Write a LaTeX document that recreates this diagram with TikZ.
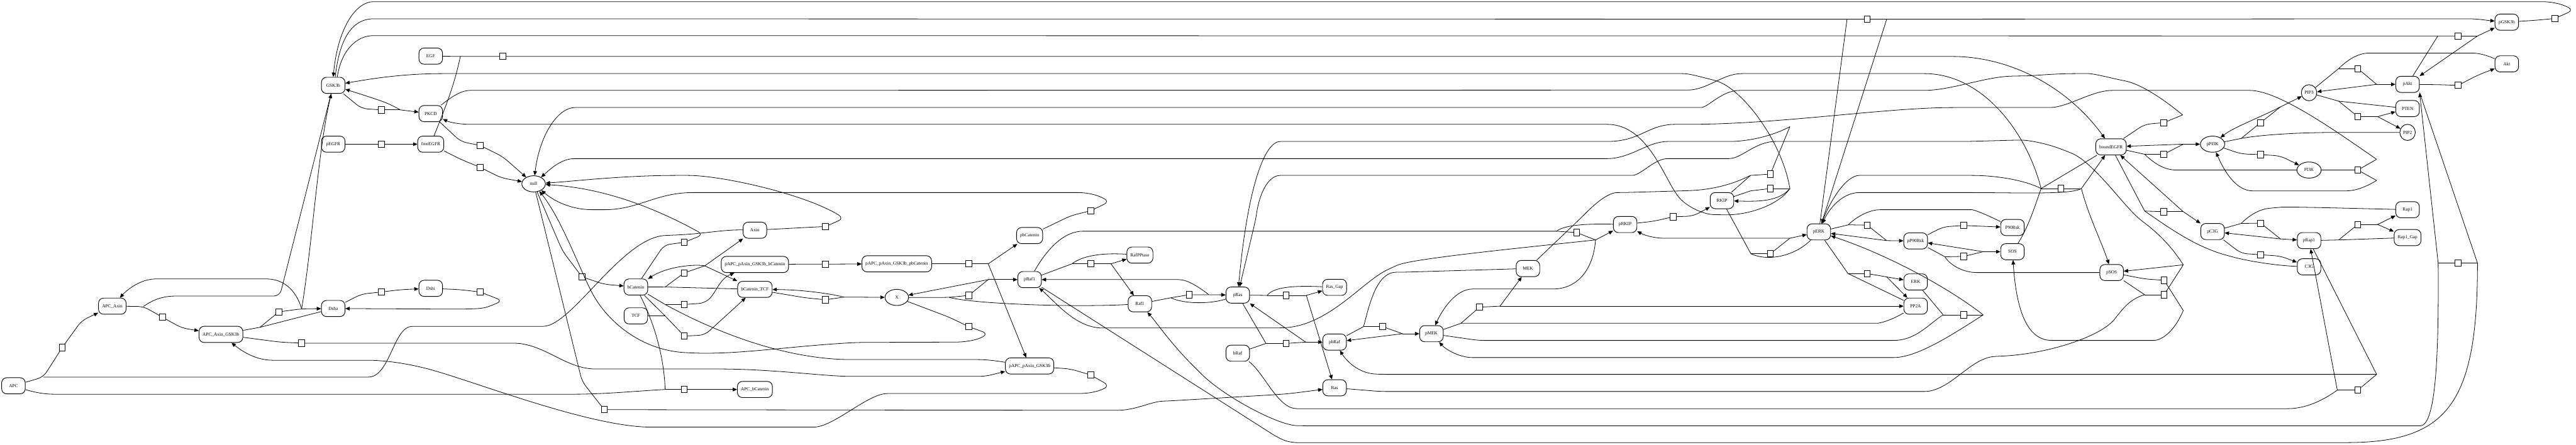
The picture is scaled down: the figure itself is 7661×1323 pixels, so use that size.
\documentclass[tikz,border=0pt]{standalone}
\usepackage{fontspec}
\setmainfont{Liberation Serif}
\usetikzlibrary{shapes.geometric,arrows.meta}
\newcommand{\nodefont}{\fontsize{3.9}{4.7}\selectfont}
\begin{document}
\begin{tikzpicture}[x=0.01cm,y=-0.01cm,
 sp/.style={draw,line width=0.5pt,rounded corners=0.15cm,minimum width=0.7cm,minimum height=0.48cm,inner xsep=3pt,inner ysep=0pt,font=\nodefont},
 el/.style={draw,line width=0.5pt,ellipse,minimum width=0.7cm,minimum height=0.48cm,inner sep=0pt,font=\nodefont},
 es/.style={el,minimum width=0.46cm},
 rx/.style={draw,line width=0.45pt,fill=white,minimum width=0.18cm,minimum height=0.19cm,inner sep=0pt},
 ln/.style={line width=0.42pt,rounded corners=5pt},
 ar/.style={ln,-{Triangle[length=0.13cm,width=0.11cm]}}]
\fill[white] (0,0) rectangle (7661,1323);
\useasboundingbox (0,0) rectangle (7661,1323);
% ---------------- species ----------------
\node[sp] (GSK) at (991,254) {GSK3b};
\node[sp] (EGF) at (1281,167) {EGF};
\node[sp] (PKCD) at (1281,338) {PKCD};
\node[sp] (pEGFR) at (991,429) {pEGFR};
\node[sp] (fEGFR) at (1281,429) {freeEGFR};
\node[el] (nul) at (1587,547) {null};
\node[sp] (APC) at (40,1148) {APC};
\node[sp] (AA) at (334,911) {APC\_Axin};
\node[sp] (AAG) at (657,995) {APC\_Axin\_GSK3b};
\node[sp] (Dsha) at (991,918) {Dsha};
\node[sp] (Dshi) at (1281,858) {Dshi};
\node[sp] (Axin) at (2245,685) {Axin};
\node[sp] (pAAGb) at (2245,787) {pAPC\_pAxin\_GSK3b\_bCatenin};
\node[sp] (bCat) at (1891,854) {bCatenin};
\node[sp] (bTCF) at (2245,861) {bCatenin\_TCF};
\node[sp] (TCF) at (1891,940) {TCF};
\node[sp] (ABc) at (2245,1159) {APC\_bCatenin};
\node[sp] (pbCat) at (3062,701) {pbCatenin};
\node[sp] (pAAGpb) at (2667,785) {pAPC\_pAxin\_GSK3b\_pbCatenin};
\node[sp] (pRaf) at (3062,832) {pRaf1};
\node[el] (X) at (2667,885) {X};
\node[sp] (RPP) at (3390,759) {RafPPtase};
\node[sp] (Raf) at (3390,904) {Raf1};
\node[sp] (pRas) at (3681,878) {pRas};
\node[sp] (bRaf) at (3681,1051) {bRaf};
\node[sp] (pAAG) at (3062,1089) {pAPC\_pAxin\_GSK3b};
\node[sp] (RGap) at (3969,855) {Ras\_Gap};
\node[sp] (pbRaf) at (3969,1018) {pbRaf};
\node[sp] (Ras) at (3969,1154) {Ras};
\node[sp] (pMEK) at (4257,993) {pMEK};
\node[sp] (MEK) at (4544,799) {MEK};
\node[sp] (pRKIP) at (4833,668) {pRKIP};
\node[sp] (RKIP) at (5121,597) {RKIP};
\node[sp] (bEGFR) at (6278,437) {boundEGFR};
\node[sp] (pERK) at (5409,690) {pERK};
\node[sp] (pP90) at (5697,717) {pP90Rsk};
\node[sp] (P90) at (5985,677) {P90Rsk};
\node[sp] (SOS) at (5985,749) {SOS};
\node[sp] (pSOS) at (6280,811) {pSOS};
\node[sp] (ERK) at (5697,839) {ERK};
\node[sp] (PP2A) at (5697,911) {PP2A};
\node[sp] (pGSK) at (7455,66) {pGSK3b};
\node[sp] (Akt) at (7455,190) {Akt};
\node[sp] (pAkt) at (7160,251) {pAkt};
\node[es] (PIP3) at (6867,276) {PIP3};
\node[sp] (PTEN) at (7160,323) {PTEN};
\node[es] (PIP2) at (7160,394) {PIP2};
\node[el,minimum width=0.72cm] (pPI3K) at (6580,429) {pPI3K};
\node[el,minimum width=0.72cm] (PI3K) at (6867,506) {PI3K};
\node[sp] (Rap1) at (7160,624) {Rap1};
\node[sp] (pC3G) at (6580,689) {pC3G};
\node[sp] (pRap1) at (6867,716) {pRap1};
\node[sp] (RGap1) at (7160,707) {Rap1\_Gap};
\node[sp] (C3G) at (6867,794) {C3G};
% ---------------- reaction boxes ----------------
\node[rx] (b1) at (1134,327) {};
\node[rx] (b2) at (1134,429) {};
\node[rx] (b3) at (1495,168) {};
\node[rx] (b4) at (1428,433) {};
\node[rx] (b5) at (1428,498) {};
\node[rx] (b6) at (7310,107) {};
\node[rx] (b7) at (5553,57) {};
\node[rx] (b8) at (7598,55) {};
\node[rx] (b9) at (1134,869) {};
\node[rx] (b10) at (1428,869) {};
\node[rx] (b11) at (185,1034) {};
\node[rx] (b12) at (483,944) {};
\node[rx] (b13) at (829,928) {};
\node[rx] (b14) at (897,1021) {};
\node[rx] (b15) at (3244,1116) {};
\node[rx] (b16) at (2455,786) {};
\node[rx] (b17) at (2881,785) {};
\node[rx] (b18) at (3244,627) {};
\node[rx] (b19) at (2035,721) {};
\node[rx] (b20) at (2455,674) {};
\node[rx] (b21) at (1731,824) {};
\node[rx] (b22) at (1797,1219) {};
\node[rx] (b23) at (2881,972) {};
\node[rx] (b24) at (2035,812) {};
\node[rx] (b25) at (2035,1000) {};
\node[rx] (b26) at (2035,906) {};
\node[rx] (b27) at (2455,892) {};
\node[rx] (b28) at (2035,1159) {};
\node[rx] (b29) at (2881,879) {};
\node[rx] (b30) at (3244,785) {};
\node[rx] (b31) at (3537,877) {};
\node[rx] (b32) at (7310,783) {};
\node[rx] (b33) at (3825,879) {};
\node[rx] (b34) at (3825,1022) {};
\node[rx] (b35) at (4112,972) {};
\node[rx] (b36) at (4400,914) {};
\node[rx] (b37) at (5840,937) {};
\node[rx] (b38) at (4689,692) {};
\node[rx] (b39) at (5553,670) {};
\node[rx] (b40) at (5840,671) {};
\node[rx] (b41) at (5840,763) {};
\node[rx] (b42) at (6129,561) {};
\node[rx] (b43) at (6436,834) {};
\node[rx] (b44) at (6436,877) {};
\node[rx] (b45) at (5553,814) {};
\node[rx] (b46) at (5265,755) {};
\node[rx] (b47) at (4976,645) {};
\node[rx] (b48) at (5265,518) {};
\node[rx] (b49) at (5265,561) {};
\node[rx] (b50) at (6435,365) {};
\node[rx] (b51) at (6435,459) {};
\node[rx] (b52) at (6723,365) {};
\node[rx] (b53) at (7012,204) {};
\node[rx] (b54) at (7310,254) {};
\node[rx] (b55) at (7012,347) {};
\node[rx] (b56) at (6723,460) {};
\node[rx] (b57) at (7012,506) {};
\node[rx] (b58) at (6435,630) {};
\node[rx] (b59) at (6723,664) {};
\node[rx] (b60) at (7012,668) {};
\node[rx] (b61) at (6723,758) {};
\node[rx] (b62) at (7012,1161) {};
% ---------------- junctions ----------------
\coordinate (j1a) at (1075,323); \coordinate (j1b) at (1191,327);
\coordinate (j3a) at (1369,168);
\coordinate (j6a) at (7250,107); \coordinate (j6b) at (7368,107);
\coordinate (j7a) at (5493,57); \coordinate (j7b) at (5611,57);
\coordinate (j8a) at (7545,60); \coordinate (j8b) at (7654,30);
\coordinate (j9a) at (1075,875); \coordinate (j9b) at (1191,862);
\coordinate (j11a) at (129,1122); \coordinate (j11b) at (243,954);
\coordinate (j12a) at (427,912); \coordinate (j12b) at (541,976);
\coordinate (j13a) at (773,974); \coordinate (j13b) at (897,919);
\coordinate (j14a) at (832,1018);
\coordinate (j15a) at (3184,1098); \coordinate (j15b) at (3300,1148);
\coordinate (j17a) at (2823,785); \coordinate (j17b) at (2939,785);
\coordinate (j18a) at (3184,642); \coordinate (j18b) at (3300,600);
\coordinate (j19a) at (1975,729); \coordinate (j19b) at (2092,698);
\coordinate (j20a) at (2394,677); \coordinate (j20b) at (2510,650);
\coordinate (j21a) at (1673,747);
\coordinate (j22a) at (1731,1135);
\coordinate (j23a) at (2823,944); \coordinate (j23b) at (2939,993);
\coordinate (j24a) at (1978,854); \coordinate (j24b) at (2096,791);
\coordinate (j25a) at (1978,940); \coordinate (j25b) at (2096,997);
\coordinate (j26a) at (1978,906); \coordinate (j26b) at (2096,902);
\coordinate (j27b) at (2510,884);
\coordinate (j28a) at (1978,1159);
\coordinate (j29a) at (2823,885); \coordinate (j29b) at (2939,832);
\coordinate (j30a) at (3188,785); \coordinate (j30b) at (3304,785);
\coordinate (j31a) at (3482,886); \coordinate (j31b) at (3595,877);
\coordinate (j32a) at (7251,783); \coordinate (j32b) at (7368,783);
\coordinate (j33a) at (3768,879); \coordinate (j33b) at (3885,879);
\coordinate (j34a) at (3765,1022); \coordinate (j34b) at (3883,1018);
\coordinate (j35a) at (4055,972); \coordinate (j35b) at (4171,993);
\coordinate (j36a) at (4345,962); \coordinate (j36b) at (4461,911);
\coordinate (j37a) at (5779,937); \coordinate (j37b) at (5898,937);
\coordinate (j38a) at (4629,688); \coordinate (j38b) at (4745,714);
\coordinate (j39a) at (5497,669); \coordinate (j39b) at (5611,716);
\coordinate (j41a) at (5784,764); \coordinate (j41b) at (5898,749);
\coordinate (j42a) at (6070,561); \coordinate (j42b) at (6190,561);
\coordinate (j43a) at (6378,830); \coordinate (j43b) at (6493,924);
\coordinate (j44a) at (6378,877); \coordinate (j44b) at (6493,788);
\coordinate (j45a) at (5496,814); \coordinate (j45b) at (5611,824);
\coordinate (j46a) at (5207,755); \coordinate (j46b) at (5323,709);
\coordinate (j48a) at (5206,522); \coordinate (j48b) at (5323,377);
\coordinate (j49a) at (5206,568); \coordinate (j49b) at (5323,561);
\coordinate (j50a) at (6378,370); \coordinate (j50b) at (6491,342);
\coordinate (j51a) at (6378,459); \coordinate (j51b) at (6493,429);
\coordinate (j52a) at (6665,412); \coordinate (j52b) at (6782,318);
\coordinate (j53a) at (6955,204); \coordinate (j53b) at (7068,251);
\coordinate (j55a) at (6955,301); \coordinate (j55b) at (7071,347);
\coordinate (j57a) at (6955,506); \coordinate (j57b) at (7068,474); \coordinate (j57c) at (7068,537);
\coordinate (j58a) at (6378,628); \coordinate (j58b) at (6493,630);
\coordinate (j59a) at (6665,665); \coordinate (j59b) at (6782,711);
\coordinate (j60a) at (6955,714); \coordinate (j60b) at (7071,668);
\coordinate (j62a) at (6951,1161); \coordinate (j62b) at (7068,1114);
% ---------------- connectors ----------------
% GSK3b -> PKCD
\draw[ln] (GSK) -- (j1a) -- (b1); \draw[ln] (b1) -- (j1b);
\draw[ar] (j1b) -- (PKCD);
\draw[ar] (j1b) .. controls (1150,305) .. (GSK);
% pEGFR -> freeEGFR
\draw[ln] (pEGFR) -- (b2); \draw[ar] (b2) -- (fEGFR);
% EGF + freeEGFR -> boundEGFR
\draw[ln] (EGF) -- (j3a) -- (b3);
\draw[ln] (fEGFR) .. controls (1320,330) and (1350,260) .. (j3a);
\draw[ar] (b3) -- (5788,168) .. controls (5980,168) and (6150,260) .. (bEGFR);
% PKCD, freeEGFR -> null
\draw[ln] (PKCD) -- (1370,421) -- (b4); \draw[ar] (b4) -- (1495,466) -- (nul);
\draw[ln] (fEGFR) -- (1370,474) -- (b5); \draw[ar] (b5) -- (1490,529) -- (nul);
% GSK3b + pAkt -> pGSK3b
\draw[ln] ([xshift=0.12cm]GSK.north) .. controls (1015,150) and (1060,106) .. (1128,106) -- (j6a) -- (b6);
\draw[ln] (j6a) -- (pAkt); \draw[ln] (b6) -- (j6b);
\draw[ar] (j6b) -- (pGSK); \draw[ar] (j6b) -- (pAkt);
% GSK3b + pERK -> pGSK3b
\draw[ln] ([xshift=0.06cm]GSK.north) .. controls (1010,110) and (1050,56) .. (1128,56) -- (j7a) -- (b7);
\draw[ar] (b7) -- (j7b) -- (7324,56) .. controls (7370,56) and (7390,60) .. (pGSK);
\draw[ln] (j7a) -- (pERK); \draw[ar] (j7b) -- (pERK);
% pGSK3b -> GSK3b
\draw[ln] (pGSK) -- (j8a) -- (b8);
\draw[ar] (b8) -- (j8b) .. controls (7610,8) and (7580,5) .. (7541,5) -- (1128,5) .. controls (1060,5) and (1005,80) .. (GSK.north);
% Dsh
\draw[ln] (Dsha) -- (j9a) -- (b9); \draw[ar] (b9) -- (j9b) -- (Dshi);
\draw[ln] (Dshi) -- (1370,862) -- (b10);
\draw[ar] (b10) -- (1495,895) .. controls (1440,918) .. (1370,920) -- (Dsha);
% APC + Axin -> APC_Axin
\draw[ln] (APC) -- (j11a) -- (b11); \draw[ar] (b11) -- (j11b) -- (AA);
\draw[ln] (j11a) -- (1078,1122) .. controls (1160,1122) and (1170,971) .. (1244,971) -- (1598,971) .. controls (1700,971) and (1850,706) .. (1996,700) .. controls (2100,695) and (2150,683) .. (Axin);
% APC_Axin + GSK3b -> APC_Axin_GSK3b
\draw[ln] (AA) -- (j12a) -- (b12); \draw[ar] (b12) -- (j12b) -- (AAG);
\draw[ln] (GSK) -- (832,881) -- (539,881) .. controls (480,881) and (450,895) .. (j12a);
% APC_Axin_GSK3b + Dsha
\draw[ln] (AAG) -- (j13a); \draw[ln] (Dsha) -- (j13a); \draw[ln] (j13a) -- (b13);
\draw[ar] (b13) -- (j13b) -- (Dsha);
\draw[ar] (j13b) .. controls (930,720) and (945,450) .. (GSK);
\draw[ar] (j13b) .. controls (880,860) and (840,830) .. (775,830) -- (481,830) .. controls (420,830) and (380,860) .. (AA);
% APC_Axin_GSK3b -> pAPC_pAxin_GSK3b
\draw[ln] (AAG) -- (j14a) -- (b14);
\draw[ar] (b14) -- (1507,1021) .. controls (1620,1021) and (1680,1098) .. (1789,1098) -- (2120,1098) .. controls (2300,1098) and (2450,1120) .. (2550,1120) -- (2890,1120) .. controls (2940,1120) and (2960,1112) .. (pAAG);
% pAPC_pAxin_GSK3b -> APC_Axin_GSK3b
\draw[ln] (pAAG) -- (j15a) -- (b15);
\draw[ar] (b15) -- (j15b) .. controls (3260,1168) and (3230,1171) .. (3188,1171) -- (2657,1171) .. controls (2580,1171) and (2480,1271) .. (2402,1271) -- (1955,1271) .. controls (1750,1271) and (1400,1130) .. (1250,1092) .. controls (1170,1075) and (1120,1072) .. (1078,1072) -- (829,1072) .. controls (760,1072) and (720,1045) .. (AAG);
% pAPC..bCatenin -> pAPC..pbCatenin
\draw[ln] (pAAGb) -- (2394,786) -- (b16); \draw[ar] (b16) -- (pAAGpb);
\draw[ln] (pAAGpb) -- (j17a) -- (b17); \draw[ln] (b17) -- (j17b);
\draw[ar] (j17b) -- (pbCat); \draw[ar] (j17b) -- (pAAG);
% pbCatenin -> null
\draw[ln] (pbCat) -- (j18a) -- (b18);
\draw[ar] (b18) -- (j18b) .. controls (3260,578) and (3230,573) .. (3188,573) -- (2079,573) .. controls (1950,573) and (1900,624) .. (1780,624) .. controls (1700,624) and (1650,600) .. (nul);
% bCatenin -> null
\draw[ln] (bCat) -- (j19a) -- (b19);
\draw[ar] (b19) -- (j19b) .. controls (1950,620) and (1800,560) .. (nul);
% Axin -> null
\draw[ln] (Axin) -- (j20a) -- (b20);
\draw[ar] (b20) -- (j20b) .. controls (2400,580) and (2150,522) .. (2029,522) .. controls (1850,522) and (1700,540) .. (nul);
% null -> bCatenin
\draw[ln] (nul) -- (j21a) -- (b21); \draw[ar] (b21) -- (1797,846) -- (bCat);
% null -> Ras
\draw[ln] (nul) -- (j22a) -- (b22);
\draw[ar] (b22) -- (3304,1221) .. controls (3380,1221) and (3420,1195) .. (3478,1193) -- (3800,1174) .. controls (3850,1170) and (3900,1163) .. (Ras);
% X -> null
\draw[ln] (X) -- (j23a) -- (b23);
\draw[ar] (b23) -- (j23b) .. controls (2900,1015) and (2860,1018) .. (2823,1018) -- (2550,1019) .. controls (2350,1030) and (2200,1055) .. (2050,1050) .. controls (1900,1040) and (1800,950) .. (1750,850) .. controls (1700,740) and (1660,640) .. (nul);
% bCatenin_TCF -> Axin
\draw[ln] (bCat) -- (j24a) -- (bTCF); \draw[ln] (j24a) -- (b24); \draw[ln] (b24) -- (j24b);
\draw[ar] (j24b) -- (Axin); \draw[ar] (j24b) -- (bTCF);
\draw[ar] (j24b) .. controls (2060,785) and (1980,795) .. (bCat);
% bCatenin + TCF -> bCatenin_TCF
\draw[ln] (TCF) -- (j25a); \draw[ln] (bCat) -- (j25a); \draw[ln] (j25a) -- (b25);
\draw[ar] (b25) -- (j25b) -- (bTCF);
% bCatenin + pAPC_pAxin_GSK3b -> pAPC..bCatenin
\draw[ln] (bCat) -- (j26a); \draw[ln] (j26a) -- (b26);
\draw[ar] (b26) -- (j26b) .. controls (2130,870) and (2140,830) .. (pAAGb);
\draw[ln] (j26a) .. controls (2150,1000) and (2350,1070) .. (2550,1070) -- (2890,1070) .. controls (2940,1070) and (2970,1075) .. (pAAG);
% bCatenin_TCF -> X
\draw[ln] (bTCF) -- (2394,886) -- (b27); \draw[ln] (b27) -- (j27b);
\draw[ar] (j27b) -- (X); \draw[ar] (j27b) .. controls (2460,872) and (2380,862) .. (bTCF);
% APC + bCatenin -> APC_bCatenin
\draw[ln] (APC) .. controls (110,1170) and (140,1173) .. (178,1173) -- (1689,1173) .. controls (1800,1173) and (1900,1163) .. (j28a);
\draw[ln] (bCat) .. controls (1945,960) and (1975,1060) .. (j28a);
\draw[ln] (j28a) -- (b28); \draw[ar] (b28) -- (ABc);
% X + Raf1 -> pRaf1
\draw[ln] (X) -- (j29a) -- (b29);
\draw[ln] (Raf) .. controls (3200,915) and (2900,905) .. (j29a);
\draw[ln] (b29) -- (j29b); \draw[ar] (j29b) -- (pRaf); \draw[ar] (j29b) -- (X);
% pRaf1 + RafPPtase -> Raf1
\draw[ln] (pRaf) -- (j30a); \draw[ln] (RPP) .. controls (3280,752) and (3220,760) .. (j30a);
\draw[ln] (j30a) -- (b30); \draw[ln] (b30) -- (j30b);
\draw[ar] (j30b) -- (RPP); \draw[ar] (j30b) -- (Raf);
% Raf1 + pRas -> pRaf1
\draw[ln] (Raf) -- (j31a); \draw[ln] (pRas) .. controls (3600,905) and (3520,905) .. (j31a);
\draw[ln] (j31a) -- (b31); \draw[ar] (b31) -- (j31b) -- (pRas);
\draw[ar] (j31b) .. controls (3560,850) and (3530,832) .. (3487,832) -- (pRaf);
% pRaf1 + pAkt -> Raf1
\draw[ln] (pRaf) -- (3800,1302) .. controls (3830,1315) and (3850,1317) .. (3874,1317) -- (6960,1317) .. controls (7280,1317) and (7368,1200) .. (j32b);
\draw[ln] (j32b) -- (b32); \draw[ln] (b32) -- (j32a);
\draw[ar] (j32a) .. controls (7253,1050) and (7245,1267) .. (7180,1267) -- (3874,1267) .. controls (3800,1265) and (3640,1180) .. (3560,1100) .. controls (3480,1020) and (3440,960) .. (Raf);
\draw[ar] (j32a) -- (pAkt.south east); \draw[ln] (j32b) -- (pAkt.south east);
% pRas + Ras_Gap -> Ras
\draw[ln] (pRas) -- (j33a); \draw[ln] (RGap) .. controls (3820,848) and (3785,860) .. (j33a);
\draw[ln] (j33a) -- (b33); \draw[ln] (b33) -- (j33b);
\draw[ar] (j33b) -- (RGap); \draw[ar] (j33b) -- (Ras);
% bRaf + pRas -> pbRaf
\draw[ln] (bRaf) -- (j34a); \draw[ln] (pRas) -- (j34a); \draw[ln] (j34a) -- (b34);
\draw[ln] (b34) -- (j34b); \draw[ar] (j34b) -- (pbRaf); \draw[ar] (j34b) -- (pRas);
% MEK + pbRaf -> pMEK
\draw[ln] (pbRaf) -- (j35a);
\draw[ln] (MEK) -- (4170,810) .. controls (4090,810) and (4070,920) .. (j35a);
\draw[ln] (j35a) -- (b35); \draw[ln] (b35) -- (j35b);
\draw[ar] (j35b) -- (pMEK); \draw[ar] (j35b) -- (pbRaf);
% pMEK + PP2A -> MEK
\draw[ln] (pMEK) -- (j36a);
\draw[ln] (PP2A) .. controls (5620,955) and (5590,962) .. (5564,962) -- (j36a);
\draw[ln] (j36a) -- (b36); \draw[ln] (b36) -- (j36b);
\draw[ar] (j36b) -- (MEK); \draw[ar] (j36b) -- (PP2A);
% ERK + pMEK -> pERK
\draw[ln] (pMEK) -- (4397,1013) -- (5614,1013) .. controls (5700,1013) and (5740,960) .. (j37a);
\draw[ln] (ERK) -- (j37a); \draw[ln] (j37a) -- (b37); \draw[ln] (b37) -- (j37b);
\draw[ar] (j37b) .. controls (5800,1000) and (5700,1064) .. (5614,1064) -- (4397,1064) .. controls (4340,1064) and (4300,1040) .. (pMEK);
\draw[ar] (j37b) .. controls (5800,860) and (5620,760) .. (pERK);
% pRaf1 + MEK + pRKIP
\draw[ln] (pRaf) .. controls (3120,730) and (3170,688) .. (3238,688) -- (j38a);
\draw[ln] (pRKIP) .. controls (4700,665) and (4650,672) .. (j38a);
\draw[ln] (j38a) -- (b38); \draw[ln] (b38) -- (j38b);
\draw[ar] (j38b) -- (pRKIP);
\draw[ar] (j38b) .. controls (4740,790) and (4700,860) .. (4600,860) -- (4397,860) .. controls (4330,860) and (4290,920) .. (pMEK);
\draw[ar] (j38b) .. controls (4500,740) and (4200,770) .. (4140,796) .. controls (4050,840) and (3950,970) .. (3800,976) -- (3296,976) .. controls (3200,976) and (3140,900) .. (pRaf);
% pERK + P90Rsk -> pP90Rsk
\draw[ln] (pERK) -- (j39a);
\draw[ln] (P90) .. controls (5900,635) and (5870,624) .. (5846,624) -- (5609,624) .. controls (5560,624) and (5520,645) .. (j39a);
\draw[ln] (j39a) -- (b39); \draw[ln] (b39) -- (j39b);
\draw[ar] (j39b) -- (pP90); \draw[ar] (j39b) -- (pERK);
% pP90Rsk -> P90Rsk
\draw[ln] (pP90) -- (5779,675) -- (b40); \draw[ar] (b40) -- (P90);
% pSOS + pP90Rsk -> SOS
\draw[ln] (pP90) -- (j41a);
\draw[ln] (pSOS) -- (5896,811) .. controls (5840,811) and (5800,790) .. (j41a);
\draw[ln] (j41a) -- (b41); \draw[ln] (b41) -- (j41b);
\draw[ar] (j41b) -- (SOS); \draw[ar] (j41b) -- (pP90);
% SOS + boundEGFR -> pSOS
\draw[ln] (SOS) .. controls (6030,680) and (6050,620) .. (j42a);
\draw[ln] (bEGFR) -- (j42a);
\draw[ln] (PKCD) .. controls (1340,290) and (1370,269) .. (1416,269) -- (5000,268) .. controls (5080,268) and (5120,219) .. (5199,219) -- (5705,219) .. controls (5900,219) and (6030,400) .. (j42a);
\draw[ln] (pERK) .. controls (5440,600) and (5490,522) .. (5547,522) -- (5846,522) .. controls (5950,522) and (6030,540) .. (j42a);
\draw[ln] (j42a) -- (b42); \draw[ln] (b42) -- (j42b);
\draw[ar] (j42b) -- (bEGFR);
\draw[ar] (j42b) .. controls (6210,640) and (6250,720) .. (pSOS);
\draw[ar] (j42b) .. controls (6160,580) and (6000,573) .. (5829,573) -- (5547,573) .. controls (5480,573) and (5440,620) .. (pERK);
% pSOS -> SOS
\draw[ln] (pSOS) -- (j43a) -- (b43); \draw[ln] (b43) -- (j43b);
\draw[ar] (j43b) .. controls (6460,1000) and (6420,1013) .. (6387,1013) -- (6119,1013) .. controls (6020,1013) and (5995,900) .. (SOS);
% Ras + pSOS -> pRas
\draw[ln] (pSOS) -- (j44a);
\draw[ln] (Ras) -- (4107,1165) -- (5705,1165) .. controls (5800,1165) and (5860,1064) .. (5950,1060) .. controls (6100,1050) and (6250,1000) .. (6300,935) .. controls (6330,900) and (6350,885) .. (j44a);
\draw[ln] (j44a) -- (b44); \draw[ln] (b44) -- (j44b);
\draw[ar] (j44b) -- (pSOS);
\draw[ar] (j44b) .. controls (6450,720) and (6400,680) .. (6360,650) .. controls (6300,590) and (6220,480) .. (6144,449) .. controls (6080,425) and (6030,417) .. (5995,417) -- (5846,421) -- (5298,421) .. controls (5220,421) and (5180,472) .. (5124,472) -- (4977,472) .. controls (4920,472) and (4880,522) .. (4836,522) -- (3825,522) .. controls (3770,522) and (3745,580) .. (3735,650) -- (pRas);
% pERK + PP2A -> ERK
\draw[ln] (pERK) -- (j45a); \draw[ln] (PP2A) -- (j45a); \draw[ln] (j45a) -- (b45); \draw[ln] (b45) -- (j45b);
\draw[ar] (j45b) -- (ERK); \draw[ar] (j45b) -- (PP2A);
% RKIP + pERK -> pRKIP
\draw[ln] (RKIP) -- (j46a);
\draw[ln] (pERK) .. controls (5340,760) and (5260,780) .. (j46a);
\draw[ln] (j46a) -- (b46); \draw[ln] (b46) -- (j46b);
\draw[ar] (j46b) -- (pERK);
\draw[ar] (j46b) -- (4969,709) .. controls (4920,709) and (4890,700) .. (pRKIP);
% pRKIP -> RKIP
\draw[ln] (pRKIP) -- (4920,658) -- (b47); \draw[ar] (b47) -- (5035,643) -- (RKIP);
% RKIP + MEK -> null
\draw[ln] (RKIP) -- (j48a);
\draw[ln] (MEK) -- (4700,650) .. controls (4740,610) and (4780,573) .. (4828,573) -- (5000,568) .. controls (5100,565) and (5160,545) .. (j48a);
\draw[ln] (j48a) -- (b48); \draw[ln] (b48) -- (j48b);
\draw[ar] (j48b) .. controls (5270,405) and (5200,421) .. (5124,421) -- (4977,421) .. controls (4900,421) and (4850,472) .. (4762,472) -- (1727,472) .. controls (1670,472) and (1640,500) .. (nul);
% RKIP reaction
\draw[ln] (RKIP) -- (j49a); \draw[ln] (j49a) -- (b49); \draw[ln] (b49) -- (j49b);
\draw[ar] (j49b) .. controls (5290,600) and (5230,600) .. (RKIP);
\draw[ar] (j49b) .. controls (5300,420) and (5180,260) .. (5083,235) .. controls (5040,224) and (5020,219) .. (4985,219) -- (1300,219) .. controls (1180,222) and (1100,235) .. (GSK);
\draw[ar] (j49b) .. controls (5290,610) and (5200,640) .. (5116,639) .. controls (5060,638) and (5010,610) .. (4980,570) .. controls (4930,480) and (4880,370) .. (4762,370) -- (1416,370) .. controls (1370,370) and (1340,365) .. (PKCD);
% boundEGFR -> null
\draw[ln] (bEGFR) -- (j50a) -- (b50); \draw[ln] (b50) -- (j50b);
\draw[ar] (j50b) .. controls (6440,300) and (6370,250) .. (6300,237) .. controls (6250,225) and (6220,219) .. (6194,219) .. controls (6100,219) and (6050,226) .. (5995,226) .. controls (5900,230) and (5800,269) .. (5705,269) -- (5191,269) .. controls (5120,269) and (5080,320) .. (5041,320) -- (1727,320) .. controls (1660,320) and (1605,400) .. (nul);
% boundEGFR + PI3K -> pPI3K
\draw[ln] (bEGFR) -- (j51a);
\draw[ln] (PI3K) -- (6491,506) .. controls (6440,506) and (6410,490) .. (j51a);
\draw[ln] (j51a) -- (b51); \draw[ln] (b51) -- (j51b);
\draw[ar] (j51b) -- (pPI3K); \draw[ar] (j51b) -- (bEGFR);
% pPI3K + PIP2 -> PIP3
\draw[ln] (pPI3K) -- (j52a);
\draw[ln] (PIP2) -- (6977,394) .. controls (6800,394) and (6700,405) .. (j52a);
\draw[ln] (j52a) -- (b52); \draw[ln] (b52) -- (j52b);
\draw[ar] (j52b) -- (PIP3);
\draw[ar] (j52b) .. controls (6720,350) and (6640,380) .. (pPI3K);
% Akt + PIP3 -> pAkt
\draw[ln] (PIP3) -- (j53a);
\draw[ln] (Akt) .. controls (7380,158) and (7360,158) .. (7333,158) -- (7064,158) .. controls (7010,158) and (6980,180) .. (j53a);
\draw[ln] (j53a) -- (b53); \draw[ln] (b53) -- (j53b);
\draw[ar] (j53b) -- (pAkt); \draw[ar] (j53b) -- (PIP3);
% pAkt -> Akt
\draw[ln] (pAkt) -- (7253,252) -- (b54); \draw[ar] (b54) -- (7368,224) -- (Akt);
% PIP3 + PTEN -> PIP2
\draw[ln] (PIP3) -- (j55a); \draw[ln] (PTEN) -- (j55a); \draw[ln] (j55a) -- (b55); \draw[ln] (b55) -- (j55b);
\draw[ar] (j55b) -- (PTEN); \draw[ar] (j55b) -- (PIP2);
% pPI3K -> PI3K
\draw[ln] (pPI3K) -- (6665,458) -- (b56); \draw[ar] (b56) -- (6782,464) -- (PI3K);
% PI3K + pRas -> pPI3K + pRas
\draw[ln] (PI3K) -- (j57a) -- (b57); \draw[ln] (b57) -- (j57b); \draw[ln] (b57) -- (j57c);
\draw[ar] (j57c) .. controls (7030,560) and (7000,568) .. (6960,568) -- (6717,568) .. controls (6650,568) and (6615,510) .. (pPI3K);
\draw[ar] (j57b) .. controls (6960,400) and (6780,269) .. (6673,269) -- (6300,269) .. controls (6220,269) and (6150,320) .. (6078,320) -- (5829,320) .. controls (5600,320) and (5300,370) .. (5000,370) .. controls (4900,370) and (4880,421) .. (4762,421) -- (3825,421) .. controls (3760,421) and (3710,560) .. (pRas);
% boundEGFR + C3G -> pC3G
\draw[ln] (bEGFR) -- (j58a);
\draw[ln] (C3G) .. controls (6760,790) and (6680,775) .. (6630,762) .. controls (6520,730) and (6440,670) .. (j58a);
\draw[ln] (j58a) -- (b58); \draw[ln] (b58) -- (j58b);
\draw[ar] (j58b) -- (pC3G); \draw[ar] (j58b) -- (bEGFR);
% pC3G + Rap1 -> pRap1
\draw[ln] (pC3G) -- (j59a);
\draw[ln] (Rap1) .. controls (7000,620) and (6800,615) .. (6769,618) .. controls (6720,622) and (6690,640) .. (j59a);
\draw[ln] (j59a) -- (b59); \draw[ln] (b59) -- (j59b);
\draw[ar] (j59b) -- (pRap1); \draw[ar] (j59b) -- (pC3G);
% pRap1 + Rap1_Gap -> Rap1
\draw[ln] (pRap1) -- (j60a) -- (RGap1); \draw[ln] (j60a) -- (b60); \draw[ln] (b60) -- (j60b);
\draw[ar] (j60b) -- (Rap1); \draw[ar] (j60b) -- (RGap1);
% pC3G -> C3G
\draw[ln] (pC3G) -- (6665,754) -- (b61); \draw[ar] (b61) -- (6782,762) -- (C3G);
% bRaf + pRap1 -> pbRaf
\draw[ln] (bRaf) .. controls (3760,1110) and (3800,1216) .. (3874,1216) -- (6786,1216) .. controls (6860,1216) and (6910,1190) .. (j62a);
\draw[ln] (j62a) -- (b62); \draw[ln] (b62) -- (j62b);
\draw[ar] (j62a) -- (pRap1); \draw[ln] (j62b) -- (pRap1);
\draw[ar] (j62b) -- (4107,1114) .. controls (4040,1110) and (4005,1075) .. (pbRaf);
\end{tikzpicture}
\end{document}
